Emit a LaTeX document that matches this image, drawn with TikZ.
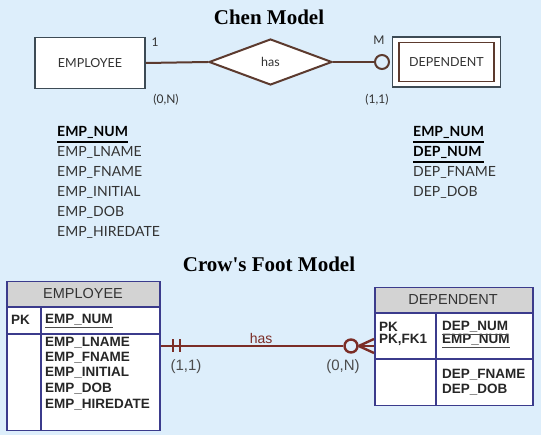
\documentclass[tikz,border=0pt]{standalone}
\usepackage{fontspec}
\setmainfont{Lato}
\newfontfamily\arialf{Liberation Sans}
\newfontfamily\titlef{Liberation Serif}
\usetikzlibrary{shapes.geometric,calc}
\definecolor{bg}{HTML}{DDEEFB}
\definecolor{ent}{HTML}{3D4B55}
\definecolor{rel}{HTML}{5C3A2E}
\definecolor{cfred}{HTML}{7B2D26}
\definecolor{navy}{HTML}{3B3B8C}
\definecolor{hdr}{HTML}{D3D3D3}
\definecolor{txt}{HTML}{333333}
\tikzset{
  title/.style={font=\titlef\bfseries\fontsize{21}{24}\selectfont, text=black},
  entbox/.style={draw=ent, line width=1.6pt, fill=white, inner sep=0pt, font=\fontsize{12.5}{14}\selectfont, text=txt},
  relline/.style={draw=rel, line width=2pt},
  card/.style={font=\fontsize{12}{14}\selectfont, text=txt, inner sep=0pt},
  attr/.style={font=\fontsize{14}{16}\selectfont, text=txt, anchor=west, inner sep=0pt},
  keyattr/.style={attr, font=\bfseries\fontsize{14}{16}\selectfont, text=black},
  tbl/.style={draw=navy, line width=1.5pt, inner sep=0pt},
  tblline/.style={draw=navy, line width=1.5pt},
  ttxt/.style={font=\arialf\bfseries\fontsize{13.5}{15}\selectfont, text=black!85, anchor=west, inner sep=0pt},
  thead/.style={font=\arialf\fontsize{14.5}{16}\selectfont, text=black!80, inner sep=0pt},
  cfline/.style={draw=cfred, line width=2.4pt},
  cflab/.style={font=\arialf\fontsize{15}{17}\selectfont, text=black!70, inner sep=0pt},
}
\begin{document}
\begin{tikzpicture}[x=1pt,y=-1pt]
\fill[bg] (0,0) rectangle (541,435);
\useasboundingbox (0,0) rectangle (541,435);

% ---------- Chen model ----------
\node[title] (t1) at (269,17) {Chen Model};
\node[entbox, minimum width=110, minimum height=51] (emp) at (90,63) {EMPLOYEE};
\node[diamond, draw=rel, line width=2pt, fill=white, inner sep=0pt, minimum width=123, minimum height=46,
      font=\fontsize{12.5}{14}\selectfont, text=txt] (has) at (270.5,62) {has};
\node[circle, draw=rel, line width=2pt, fill=bg, minimum size=14, inner sep=0pt] (opt) at (382,62) {};
\node[draw=ent, line width=1.6pt, fill=white, minimum width=108, minimum height=50, inner sep=0pt] (depo) at (446.5,62) {};
\node[draw=rel, line width=1.6pt, fill=white, minimum width=95, minimum height=39, inner sep=0pt,
      font=\fontsize{12.5}{14}\selectfont, text=txt] (dep) at (446.5,62) {DEPENDENT};
\draw[relline] (emp.east) -- (has.west);
\draw[relline] (has.east) -- (opt.west);
\node[card] (c1) at (155,42) {1};
\node[card] (cM) at (379,40) {M};
\node[card] (c0N) at (166,100) {(0,N)};
\node[card] (c11) at (377,100) {(1,1)};

% attributes
\node[keyattr] (a1) at (57,132) {EMP\_NUM};
\draw[black, line width=1.2pt] (a1.south west |- 0,142) -- (a1.south east |- 0,142);
\node[attr] (a2) at (57,152) {EMP\_LNAME};
\node[attr] (a3) at (57,172) {EMP\_FNAME};
\node[attr] (a4) at (57,192) {EMP\_INITIAL};
\node[attr] (a5) at (57,212) {EMP\_DOB};
\node[attr] (a6) at (57,232) {EMP\_HIREDATE};

\node[keyattr] (b1) at (413,132) {EMP\_NUM};
\draw[black, line width=1.2pt] (b1.south west |- 0,142) -- (b1.south east |- 0,142);
\node[keyattr] (b2) at (413,152) {DEP\_NUM};
\draw[black, line width=1.2pt] (b2.south west |- 0,162) -- (b1.south east |- 0,162);
\node[attr] (b3) at (413,172) {DEP\_FNAME};
\node[attr] (b4) at (413,192) {DEP\_DOB};

% ---------- Crow's Foot model ----------
\node[title] (t2) at (269,264) {Crow's Foot Model};

% EMPLOYEE table
\fill[white] (6,281) rectangle (159,430);
\fill[hdr] (6,281) rectangle (159,307);
\node[tbl, minimum width=153, minimum height=149, anchor=north west] (empT) at (6,281) {};
\draw[tblline] (6,307) -- (159,307);
\draw[tblline] (6,334) -- (159,334);
\draw[tblline] (41,307) -- (41,430);
\node[thead] (eh) at (83,294) {EMPLOYEE};
\node[ttxt] (epk) at (11,320) {PK};
\node[ttxt] (ek) at (45,320) {EMP\_NUM};
\draw[black!70, line width=1pt] ($(ek.south west)+(0,1.5)$) -- ($(ek.south east)+(0,1.5)$);
\node[ttxt] (e1) at (45,343) {EMP\_LNAME};
\node[ttxt] (e2) at (45,358) {EMP\_FNAME};
\node[ttxt] (e3) at (45,373) {EMP\_INITIAL};
\node[ttxt] (e4) at (45,389) {EMP\_DOB};
\node[ttxt] (e5) at (45,405) {EMP\_HIREDATE};

% DEPENDENT table
\fill[white] (374,287) rectangle (532,405);
\fill[hdr] (374,287) rectangle (532,313);
\node[tbl, minimum width=158, minimum height=118, anchor=north west] (depT) at (374,287) {};
\draw[tblline] (374,313) -- (532,313);
\draw[tblline] (374,359) -- (532,359);
\draw[tblline] (436,313) -- (436,405);
\node[thead] (dh) at (453,300) {DEPENDENT};
\node[ttxt] (dpk1) at (379,327) {PK};
\node[ttxt] (dpk2) at (379,340) {PK,FK1};
\node[ttxt] (dk1) at (442,327) {DEP\_NUM};
\node[ttxt] (dk2) at (442,340) {EMP\_NUM};
\draw[black!70, line width=1pt] ($(dk1.south west)+(0,1.5)$) -- ($(dk1.south east)+(0,1.5)$);
\draw[black!70, line width=1pt] ($(dk2.south west)+(0,1.5)$) -- ($(dk2.south east)+(0,1.5)$);
\node[ttxt] (d1) at (442,375) {DEP\_FNAME};
\node[ttxt] (d2) at (442,390) {DEP\_DOB};

% relationship
\coordinate (cfL) at (empT.east |- 0,346);
\coordinate (cfR) at (depT.west |- 0,346);
\node[circle, draw=cfred, line width=2.4pt, fill=bg, minimum size=13, inner sep=0pt] (cfo) at (351,346) {};
\draw[cfline] (cfL) -- node[pos=0.55, above=1pt, font=\arialf\fontsize{14}{16}\selectfont, text=cfred, inner sep=0pt] (hasl) {has} (cfo.west);
\draw[cfline] (173,339.5) -- (173,352.5);
\draw[cfline] (180,339.5) -- (180,352.5);
\draw[cfline] (cfo.east) -- ($(cfR)+(0,-7)$);
\draw[cfline] (cfo.east) -- (cfR);
\draw[cfline] (cfo.east) -- ($(cfR)+(0,7)$);
\node[cflab] (l11) at (186,367) {(1,1)};
\node[cflab] (l0N) at (343,367) {(0,N)};
\end{tikzpicture}
\end{document}
